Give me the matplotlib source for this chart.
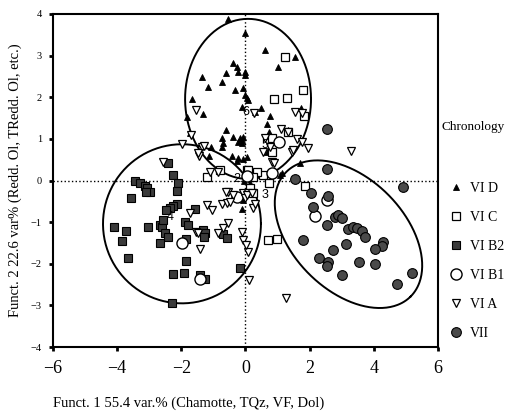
import numpy as np
import matplotlib
matplotlib.use("Agg")
import matplotlib.pyplot as plt

plt.rcParams['font.family'] = ['Liberation Serif', 'DejaVu Serif']

# ----------------------------
# Datos
# ----------------------------
vid_x = [-0.55, 0.0, -0.39, -0.26, -0.23, 0.0, 0.0, -0.61, -1.36, -0.73, -1.17, -0.33, -0.08,
         0.0, 0.05, 0.08, -1.67, -1.32, -1.82, -0.11, 0.3, -0.61, -0.73, -0.39, -0.17, -0.08,
         -0.23, -0.11, -0.73, -1.07, -0.42, -0.23, 0.05, -1.14, -1.73, 0.61, 1.54, 1.01, 0.48,
         0.76, 0.67, 1.73, 0.73, 1.32, -0.11, 0.67, 1.7, 1.07, 1.14, -0.26, -0.08, 0.05, -0.11,
         -0.08, -0.7, 0.0, 0.1, -0.05, 0.15]
vid_y = [3.88, 3.55, 2.82, 2.73, 2.61, 2.61, 2.54, 2.58, 2.49, 2.37, 2.25, 2.18, 2.22,
         2.06, 1.98, 1.94, 1.96, 1.6, 1.53, 1.77, 1.65, 1.21, 1.02, 1.05, 1.02, 1.05,
         0.93, 0.9, 0.81, 0.81, 0.59, 0.54, 0.56, 0.59, 1.14, 3.14, 2.97, 2.73, 1.74,
         1.55, 1.36, 1.74, 1.17, 1.21, 0.97, 0.69, 0.42, 0.13, 0.18, 0.47, 0.52, -0.23, -0.69,
         -0.47, 0.9, 0.05, 0.1, 0.0, -0.05]

vic_x = [1.23, 1.79, 0.89, 1.29, 1.82, 1.32, 0.83, 0.83, 0.05, 0.23, 0.55, 0.73, 1.85,
         0.7, 0.98, 0.23, 0.14, 0.08, -1.2, -0.79, 0.36, 0.23]
vic_y = [2.97, 2.18, 1.96, 1.98, 1.55, 1.17, 1.02, 0.69, 0.25, 0.18, 0.13, -0.06, -0.12,
         -1.43, -1.41, -0.3, -0.18, 0.25, 0.08, 0.25, 0.2, 0.08]

vib2_x = [-2.41, -2.26, -3.44, -3.29, -3.13, -3.07, -2.98, -3.1, -2.1, -2.13, -3.57, -2.13,
          -2.26, -2.35, -2.48, -4.1, -3.72, -3.85, -3.04, -2.66, -2.6, -1.88, -1.79, -2.51,
          -2.41, -2.66, -1.85, -3.66, -2.26, -1.92, -1.85, -1.42, -1.26, -2.29, -1.32, -1.26,
          -1.29, -1.57, -0.17, -0.7, -0.58, -2.57]
vib2_y = [0.42, 0.13, -0.01, -0.06, -0.13, -0.18, -0.28, -0.28, -0.06, -0.25, -0.42, -0.56,
          -0.61, -0.66, -0.71, -1.12, -1.21, -1.45, -1.12, -1.07, -1.12, -1.0, -1.07, -1.26,
          -1.36, -1.5, -1.41, -1.86, -2.25, -2.22, -1.94, -2.27, -2.37, -2.95, -1.19, -1.26,
          -1.36, -0.69, -2.1, -1.29, -1.38, -0.95]

vib1_x = [1.04, 0.83, 2.54, 2.17, -1.98, -1.42, -0.26, 0.05]
vib1_y = [0.93, 0.18, -0.47, -0.85, -1.5, -2.37, -0.4, 0.12]

via_x = [-1.54, -1.7, -1.98, -1.36, -1.29, -1.45, -2.57, -1.1, -0.86, -0.55, -0.39, -0.08,
         0.08, 0.27, 1.54, 1.76, 1.1, 0.61, 0.83, 0.89, 1.45, 1.95, 3.29, 0.76, 0.0, 0.23,
         -0.11, -0.08, 0.08, 0.11, 1.26, 0.55, -0.61, -0.73, -0.58, -0.48, -1.2, -1.04, -1.73,
         -1.54, -1.48, -0.86, -0.7, -0.55, -1.42, 0.02, 0.3, 0.05, 0.2, -1.48, 1.32, 1.48,
         1.61, 1.76]
via_y = [1.69, 1.09, 0.88, 0.81, 0.83, 0.59, 0.44, 0.2, 0.2, -0.28, -0.35, -0.3,
         -0.3, 1.62, 1.65, 1.62, 1.24, 1.02, 0.44, 0.42, 0.69, 0.78, 0.71, 0.81, -0.42, -0.66,
         -1.24, -1.43, -1.72, -2.39, -2.82, 0.69, -0.28, -0.56, -0.54, -0.52, -0.59, -0.71, -0.78,
         -1.24, -1.26, -1.26, -1.14, -1.02, -1.65, -1.55, -0.57, -0.35, -0.3, 0.66, 1.17, 0.73,
         1.0, 0.92]

vii_x = [2.54, 1.54, 2.04, 2.57, 4.91, 2.1, 2.79, 2.88, 3.0, 2.54, 3.19, 3.35, 3.47, 3.63,
         3.72, 1.79, 3.13, 2.73, 4.28, 4.25, 4.03, 2.29, 2.57, 2.54, 3.54, 4.03, 3.0, 5.19,
         4.72, 2.54]
vii_y = [0.28, 0.04, -0.3, -0.37, -0.16, -0.64, -0.88, -0.83, -0.9, -1.07, -1.17, -1.12,
         -1.14, -1.21, -1.36, -1.43, -1.53, -1.67, -1.48, -1.57, -1.65, -1.86, -1.96, -2.06,
         -1.96, -2.0, -2.27, -2.22, -2.49, 1.24]

# Etiquetas de centroides
cent_lbl = ["2", "3", "4", "5", "6"]
cent_x = [-0.27, 0.6, -2.35, 0.6, 0.0]
cent_y = [0.04, -0.35, -0.88, 0.86, 1.65]

# Elipses: centro (datos), semiejes (px), ángulo (grados en pantalla)
ell_cx = [0.08, -1.98, 3.21]
ell_cy = [1.96, -1.04, -1.29]
ell_a = [63, 79, 88]
ell_b = [80, 79.5, 56]
ell_ang = [0, 0, -45]

SX, SY = 32.1, 41.6  # px por unidad


def ellipse_pts(cx, cy, a, b, ang):
    t = np.linspace(0, 2 * np.pi, 300)
    th = np.radians(ang)
    dx = a * np.cos(t) * np.cos(th) - b * np.sin(t) * np.sin(th)
    dy = a * np.cos(t) * np.sin(th) + b * np.sin(t) * np.cos(th)
    return cx + dx / SX, cy + dy / SY


fig = plt.figure(figsize=(5.07, 4.19), dpi=100)
ax = fig.add_axes([0.1045, 0.1718, 0.7594, 0.7948])

ax.axhline(0, color="black", ls=":", lw=1.0, zorder=1)
ax.axvline(0, color="black", ls=":", lw=1.0, zorder=1)

for cx, cy, a, b, g in zip(ell_cx, ell_cy, ell_a, ell_b, ell_ang):
    ex, ey = ellipse_pts(cx, cy, a, b, g)
    ax.plot(ex, ey, color="black", lw=1.4, zorder=2)

styles = [
    ("VI D", vid_x, vid_y, dict(marker="^", ms=5, mfc="black", mec="black", mew=0.6)),
    ("VI C", vic_x, vic_y, dict(marker="s", ms=6, mfc="white", mec="black", mew=0.9)),
    ("VI B2", vib2_x, vib2_y, dict(marker="s", ms=5.5, mfc="#3a3a3a", mec="black", mew=0.8)),
    ("VI B1", vib1_x, vib1_y, dict(marker="o", ms=8, mfc="white", mec="black", mew=1.0)),
    ("VI A", via_x, via_y, dict(marker="v", ms=6, mfc="white", mec="black", mew=0.9)),
    ("VII", vii_x, vii_y, dict(marker="o", ms=7, mfc="#4a4a4a", mec="black", mew=0.8)),
]
handles = []
for lbl, xs, ys, st in styles:
    h, = ax.plot(xs, ys, ls="none", label=lbl, zorder=3, **st)
    handles.append(h)

for t, x, y in zip(cent_lbl, cent_x, cent_y):
    ax.text(x, y, t, fontsize=9, family="Liberation Sans", ha="center", va="center", zorder=4)

ax.set_xlim(-6, 6)
ax.set_ylim(-4, 4)
ax.set_xticks([-6, -4, -2, 0, 2, 4, 6])
ax.set_yticks([-4, -3, -2, -1, 0, 1, 2, 3, 4])
ax.tick_params(axis="x", labelsize=13, length=3, width=2, direction="out", pad=6)
ax.tick_params(axis="y", labelsize=7.5, length=3, width=2, direction="out", pad=5)
for s in ax.spines.values():
    s.set_linewidth(1.5)

fig.text(0.03, 0.57, "Funct. 2 22.6 var% (Redd. Ol, TRedd. Ol, etc.)",
         rotation=90, ha="center", va="center", fontsize=10.5)
fig.text(0.105, 0.038, "Funct. 1 55.4 var.% (Chamotte, TQz, VF, Dol)",
         ha="left", va="center", fontsize=10.5)
fig.text(0.995, 0.697, "Chronology", ha="right", va="center", fontsize=9.5)

fig.legend(handles=handles, loc="upper left", bbox_to_anchor=(0.886, 0.566),
           frameon=False, fontsize=10, handlelength=1.0, handletextpad=0.5,
           borderpad=0, borderaxespad=0, labelspacing=1.15)

fig.savefig("out.png", dpi=100)
